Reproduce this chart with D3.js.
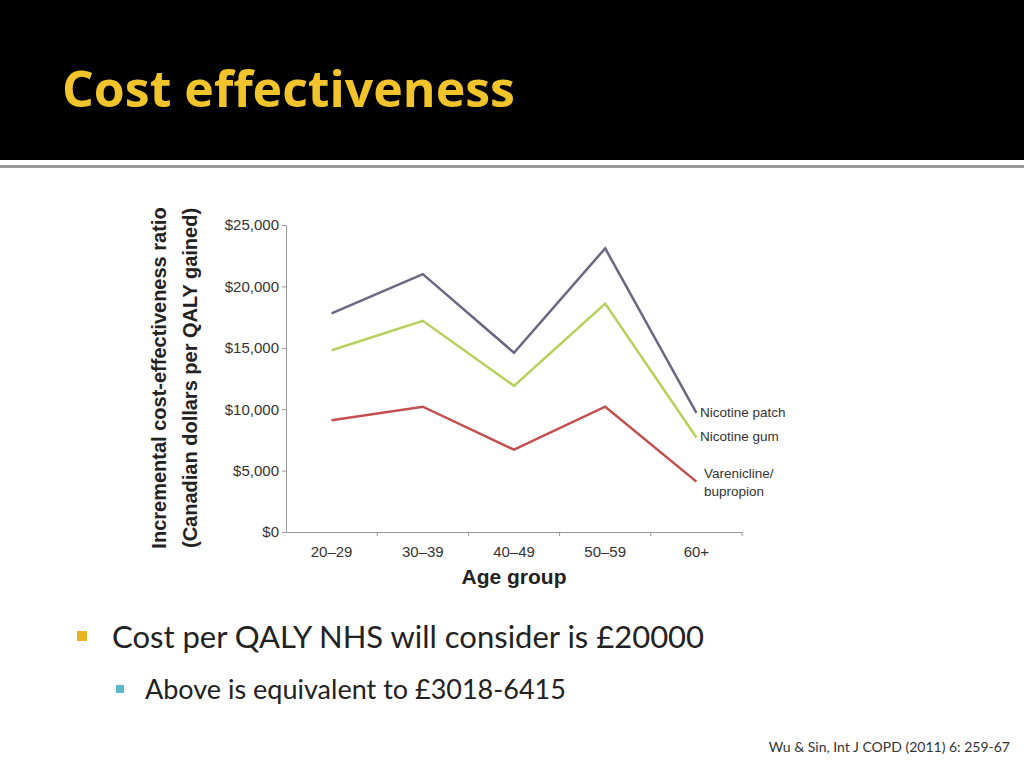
<!DOCTYPE html>
<html><head><meta charset="utf-8">
<script src="https://cdn.jsdelivr.net/npm/d3@7"></script>
<style>body{margin:0;background:#fff}svg{display:block}</style>
</head><body>
<script>
const categories = ["20–29","30–39","40–49","50–59","60+"];
const patch = [17800,21000,14600,23100,9700];
const gum = [14800,17200,11900,18600,7700];
const varen = [9100,10200,6700,10200,4100];
const yTicks = [0,5000,10000,15000,20000,25000];
const seriesNames = ["Nicotine patch","Nicotine gum","Varenicline/|bupropion"];

const svg = d3.select("body").append("svg").attr("width",1024).attr("height",768);
svg.append("rect").attr("width",1024).attr("height",160).attr("fill","#000");
svg.append("rect").attr("y",165).attr("width",1024).attr("height",3).attr("fill","#9a9a9a");
svg.append("text").attr("x",62).attr("y",107).text("Cost effectiveness")
  .attr("font-family","Open Sans, sans-serif").attr("font-weight","bold").attr("font-size",50)
  .attr("fill","#f2c42c");

const x = d3.scaleBand().domain(categories).range([286,742]);
const y = d3.scaleLinear().domain([0,25000]).range([532,225]);
const g = svg.append("g").attr("font-family","Liberation Sans, Arial, sans-serif");
const ya = g.append("g").attr("transform","translate(286,0)")
  .call(d3.axisLeft(y).tickValues(yTicks).tickSize(4).tickFormat(d=>"$"+d3.format(",")(d)));
const xa = g.append("g").attr("transform","translate(0,532)")
  .call(d3.axisBottom(x).tickSize(4).tickSizeOuter(0));
xa.selectAll(".tick line").attr("transform",`translate(${x.bandwidth()/2},0)`);
[ya,xa].forEach(a=>{a.selectAll("path,line").attr("stroke","#999");
  a.selectAll("text").attr("font-size",15).attr("fill","#333").attr("font-family","Liberation Sans, Arial, sans-serif");});
xa.selectAll("text").attr("dy","1.2em");
g.append("text").attr("x",514).attr("y",584).attr("text-anchor","middle").attr("font-size",21)
  .attr("font-weight","bold").attr("fill","#222").text("Age group");
const yt = g.append("text").attr("transform","translate(0,378) rotate(-90)").attr("text-anchor","middle")
  .attr("font-size",20).attr("font-weight","bold").attr("fill","#222");
yt.append("tspan").attr("x",0).attr("y",166).text("Incremental cost-effectiveness ratio");
yt.append("tspan").attr("x",0).attr("y",197).text("(Canadian dollars per QALY gained)");

const colors = ["#6b6682","#b7d05c","#c2504e"];
const line = d3.line().x((d,i)=>x(categories[i])+x.bandwidth()/2).y(d=>y(d));
[patch,gum,varen].forEach((s,k)=>{
  g.append("path").attr("d",line(s)).attr("fill","none").attr("stroke",colors[k]).attr("stroke-width",2.5);
  const lab = g.append("text").attr("x",700).attr("y",y(s[4])+ (k==2?-4:4)).attr("font-size",13.5).attr("fill","#333");
  seriesNames[k].split("|").forEach((t,j)=>lab.append("tspan").attr("x",k==2?704:700).attr("dy",j?"1.35em":0).text(t));
});

const f = "Lato, Open Sans, sans-serif";
svg.append("rect").attr("x",77).attr("y",631).attr("width",10).attr("height",10).attr("fill","#e8b321");
svg.append("text").attr("x",112).attr("y",648).attr("font-family",f).attr("font-size",31).attr("fill","#222")
  .text("Cost per QALY NHS will consider is £20000");
svg.append("rect").attr("x",116).attr("y",685).attr("width",8).attr("height",8).attr("fill","#5bb8d0");
svg.append("text").attr("x",145).attr("y",699).attr("font-family",f).attr("font-size",27).attr("fill","#222")
  .text("Above is equivalent to £3018-6415");
svg.append("text").attr("x",1010).attr("y",752).attr("text-anchor","end").attr("font-family",f).attr("font-size",14).attr("fill","#333")
  .text("Wu & Sin, Int J COPD (2011)  6: 259-67");
</script>
</body></html>
